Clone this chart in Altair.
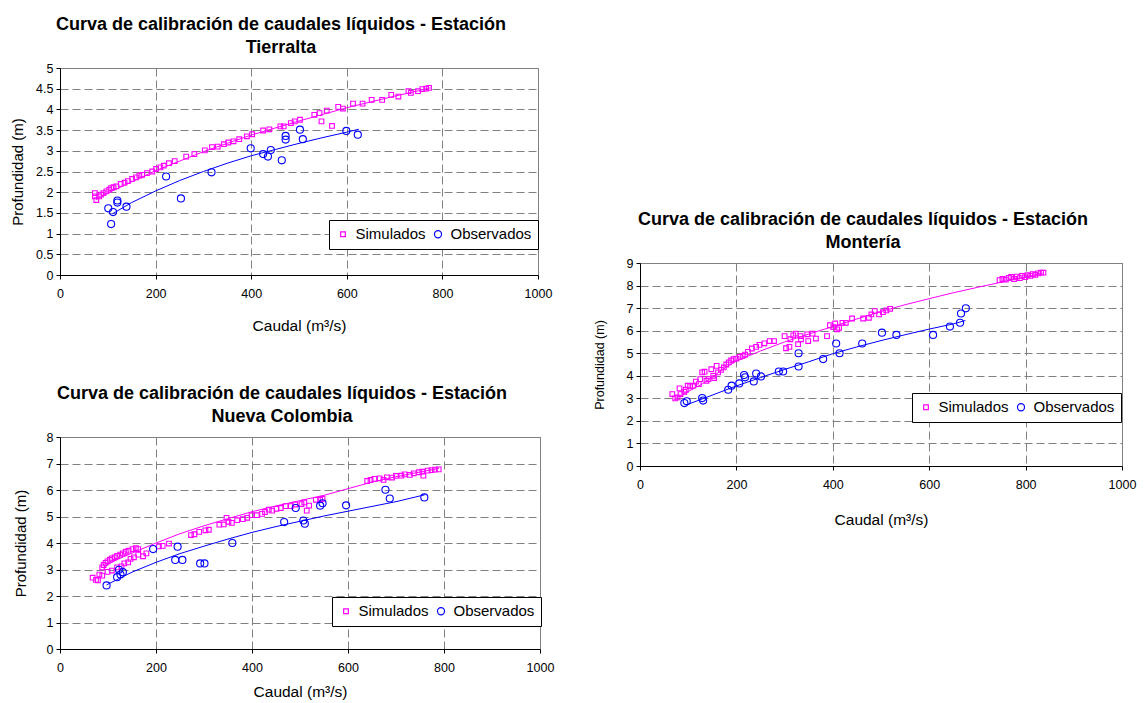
import altair as alt
import pandas as pd

FONT = "Liberation Sans"
MAG = "#FF00FF"
BLU = "#0000FF"

# ---------------- Tierralta ----------------
t_sim_q = [73, 73, 76, 82, 86, 91, 97, 103, 107, 112, 118, 127, 135, 142, 151, 159, 166, 172, 182, 193,
           201, 210, 217, 228, 240, 264, 281, 303, 318, 330, 343, 352, 363, 375, 391, 402, 425, 438, 461,
           468, 483, 491, 502, 532, 543, 547, 558, 569, 582, 592, 613, 633, 652, 674, 693, 708, 729, 734,
           749, 758, 766, 772]
t_sim_h = [1.98, 1.90, 1.81, 1.90, 1.94, 1.98, 2.02, 2.06, 2.10, 2.12, 2.14, 2.20, 2.23, 2.27, 2.32, 2.36,
           2.40, 2.42, 2.46, 2.50, 2.56, 2.60, 2.64, 2.70, 2.75, 2.86, 2.92, 3.01, 3.09, 3.10, 3.16, 3.20,
           3.23, 3.28, 3.35, 3.40, 3.49, 3.52, 3.59, 3.59, 3.67, 3.71, 3.75, 3.87, 3.91, 3.71, 3.97, 3.60,
           4.06, 4.02, 4.14, 4.14, 4.23, 4.23, 4.35, 4.31, 4.44, 4.40, 4.44, 4.49, 4.50, 4.52]
t_obs_q = [101, 107, 111, 120, 120, 139, 222, 253, 317, 399, 425, 435, 441, 464, 472, 472, 502, 508, 599, 623]
t_obs_h = [1.61, 1.23, 1.52, 1.80, 1.75, 1.65, 2.38, 1.85, 2.48, 3.06, 2.92, 2.86, 3.02, 2.77, 3.36, 3.27,
           3.51, 3.28, 3.48, 3.39]
t_simfit_q = [75, 100, 150, 200, 250, 300, 350, 400, 450, 500, 550, 600, 650, 700, 750, 775]
t_simfit_h = [1.82, 1.98, 2.25, 2.52, 2.75, 2.98, 3.18, 3.38, 3.55, 3.72, 3.88, 4.04, 4.18, 4.32, 4.45, 4.52]
t_obsfit_q = [110, 150, 200, 250, 300, 350, 400, 450, 500, 550, 600, 625]
t_obsfit_h = [1.48, 1.75, 2.03, 2.28, 2.50, 2.70, 2.88, 3.03, 3.18, 3.32, 3.45, 3.52]

# ---------------- Nueva Colombia ----------------
n_sim_q = [68, 75, 79, 82, 88, 99, 108, 119, 128, 134, 142, 147, 154, 163, 173, 180,
           88, 91, 95, 99, 104, 108, 114, 119, 125, 131, 137, 143, 151, 158, 163,
           206, 214, 227, 273, 280, 290, 303, 310, 332, 341, 347, 351, 358, 369, 381, 390, 399, 410,
           421, 427, 435, 442, 451, 460, 470, 481, 490, 503, 509, 514, 519, 533, 542, 547,
           640, 647, 655, 666, 674, 681, 692, 700, 711, 718, 729, 737, 748, 755, 757, 766, 774, 781, 789]
n_sim_h = [2.69, 2.61, 2.59, 2.81, 2.77, 2.91, 2.96, 3.08, 3.12, 3.23, 3.27, 3.40, 3.46, 3.56, 3.50, 3.61,
           3.08, 3.17, 3.25, 3.31, 3.37, 3.42, 3.46, 3.51, 3.56, 3.61, 3.67, 3.71, 3.77, 3.81, 3.77,
           3.87, 3.89, 3.98, 4.30, 4.33, 4.42, 4.48, 4.50, 4.69, 4.70, 4.95, 4.80, 4.76, 4.86, 4.90, 4.95,
           5.05, 5.05, 5.10, 5.17, 5.26, 5.22, 5.29, 5.32, 5.39, 5.39, 5.45, 5.47, 5.53, 5.22, 5.41, 5.63,
           5.63, 5.67,
           6.34, 6.38, 6.42, 6.44, 6.38, 6.48, 6.47, 6.53, 6.54, 6.59, 6.57, 6.63, 6.67, 6.69, 6.54, 6.73,
           6.75, 6.77, 6.78]
n_obs_q = [97, 119, 123, 126, 131, 194, 240, 245, 255, 292, 301, 359, 467, 491, 507, 510, 542, 547, 596,
           678, 687, 759]
n_obs_h = [2.40, 2.71, 2.99, 2.81, 2.90, 3.77, 3.36, 3.86, 3.36, 3.23, 3.23, 4.00, 4.79, 5.32, 4.85, 4.73,
           5.41, 5.50, 5.42, 6.01, 5.68, 5.72]
n_simfit_q = [90, 100, 120, 150, 200, 250, 300, 350, 400, 450, 500, 550, 600, 650, 700, 750, 790]
n_simfit_h = [3.05, 3.20, 3.38, 3.62, 4.00, 4.35, 4.65, 4.92, 5.18, 5.40, 5.60, 5.80, 6.05, 6.30, 6.50,
              6.68, 6.82]
n_obsfit_q = [97, 150, 200, 250, 300, 350, 400, 450, 500, 550, 600, 650, 700, 760]
n_obsfit_h = [2.42, 2.90, 3.27, 3.60, 3.88, 4.15, 4.40, 4.62, 4.82, 5.02, 5.20, 5.38, 5.56, 5.82]

# ---------------- Montería ----------------
m_sim_q = [67, 73, 78, 82, 84, 92, 95, 99, 104, 110, 116, 122, 125, 129, 134, 138, 142, 148, 152, 159,
           154, 162, 168, 174, 179, 184, 189, 194, 200, 207, 213, 218, 224, 232, 241, 248, 258, 269, 278,
           300, 303, 310, 312, 318, 323, 328, 333, 334, 347, 349, 358, 365, 388, 394, 401, 405, 409, 413,
           420, 427, 440, 463, 475, 480, 487, 496, 504, 511, 519,
           746, 752, 759, 765, 770, 776, 782, 788, 793, 799, 804, 810, 815, 820, 826, 832, 837]
m_sim_h = [3.19, 3.00, 3.04, 3.44, 3.19, 3.29, 3.38, 3.56, 3.53, 3.56, 3.74, 3.63, 3.85, 4.15, 4.18, 3.78,
           3.85, 4.29, 4.00, 4.44, 3.90, 4.15, 4.26, 4.37, 4.50, 4.59, 4.68, 4.74, 4.76, 4.84, 4.88, 4.94,
           5.06, 5.21, 5.28, 5.37, 5.44, 5.54, 5.54, 5.76, 5.22, 5.28, 5.62, 5.79, 5.87, 5.40, 5.76, 5.62,
           5.84, 5.54, 5.87, 5.65, 5.76, 6.24, 6.16, 6.32, 6.06, 6.13, 6.35, 6.35, 6.54, 6.54, 6.57, 6.72,
           6.87, 6.72, 6.82, 6.90, 6.97,
           8.24, 8.29, 8.26, 8.34, 8.38, 8.29, 8.40, 8.33, 8.43, 8.37, 8.46, 8.43, 8.51, 8.47, 8.54, 8.57,
           8.57]
m_obs_q = [92, 97, 129, 131, 183, 190, 206, 216, 218, 236, 241, 251, 288, 297, 329, 329, 380, 407, 414,
           461, 502, 532, 608, 643, 664, 666, 676]
m_obs_h = [2.79, 2.87, 3.01, 2.90, 3.38, 3.56, 3.66, 4.03, 3.93, 3.75, 4.10, 3.97, 4.19, 4.19, 4.41, 5.00,
           4.74, 5.43, 5.00, 5.43, 5.91, 5.81, 5.81, 6.18, 6.35, 6.76, 6.99]
m_simfit_q = [70, 100, 130, 150, 180, 200, 250, 300, 350, 400, 450, 500, 550, 600, 650, 700, 750, 800, 835]
m_simfit_h = [2.95, 3.30, 3.65, 3.95, 4.40, 4.65, 5.10, 5.50, 5.85, 6.18, 6.52, 6.85, 7.15, 7.42, 7.68,
              7.92, 8.15, 8.38, 8.55]
m_obsfit_q = [95, 130, 200, 250, 300, 350, 400, 450, 500, 550, 600, 650, 675]
m_obsfit_h = [2.70, 2.98, 3.55, 3.92, 4.28, 4.62, 4.98, 5.28, 5.56, 5.82, 6.07, 6.30, 6.45]

X_TICKS = [0, 200, 400, 600, 800, 1000]
SERIES = ["Simulados", "Observados"]


def panel(title, sim_q, sim_h, obs_q, obs_h, sf_q, sf_h, of_q, of_h,
          ymax, ystep, w, h, lx, ly, ytitle_size=15, title_dx=-18,
          x_title_pad=12, y_title_pad=10, fmt="~g"):
    pts = pd.DataFrame({
        "Q": list(sim_q) + list(obs_q),
        "H": list(sim_h) + list(obs_h),
        "serie": ["Simulados"] * len(sim_q) + ["Observados"] * len(obs_q),
    })
    simfit = pd.DataFrame({"Q": sf_q, "H": sf_h})
    obsfit = pd.DataFrame({"Q": of_q, "H": of_h})
    nsteps = int(round(ymax / ystep))
    yt = [round(i * ystep, 2) for i in range(nsteps + 1)]

    xenc = alt.X("Q:Q", scale=alt.Scale(domain=[0, 1000], nice=False),
                 axis=alt.Axis(values=X_TICKS, format="d", title="Caudal (m³/s)",
                               titlePadding=x_title_pad, titleFontSize=15.5,
                               titleFontWeight="normal", labelPadding=8, labelFlush=False))
    yenc = alt.Y("H:Q", scale=alt.Scale(domain=[0, ymax], nice=False),
                 axis=alt.Axis(values=yt, format=fmt, title="Profundidad (m)",
                               titlePadding=y_title_pad, titleFontSize=ytitle_size,
                               titleFontWeight="normal", labelPadding=3, labelFlush=False))
    leg = alt.Legend(title=None, orient="none", legendX=lx, legendY=ly, direction="horizontal",
                     strokeColor="black", fillColor="white", padding=6.5, labelFontSize=15,
                     labelFont=FONT, labelColor="black", columnPadding=4, labelOffset=5,
                     symbolStrokeWidth=1.2)
    l1 = alt.Chart(simfit).mark_line(color=MAG, strokeWidth=1).encode(x=xenc, y=yenc)
    l2 = alt.Chart(obsfit).mark_line(color=BLU, strokeWidth=1).encode(x=xenc, y=yenc)
    p = alt.Chart(pts).mark_point(filled=False, strokeWidth=1.1, opacity=1).encode(
        x=xenc, y=yenc,
        color=alt.Color("serie:N", scale=alt.Scale(domain=SERIES, range=[MAG, BLU]), legend=leg),
        shape=alt.Shape("serie:N", scale=alt.Scale(domain=SERIES, range=["square", "circle"]), legend=leg),
        size=alt.Size("serie:N", scale=alt.Scale(domain=SERIES, range=[22, 50]), legend=leg),
    )
    return alt.layer(l1, l2, p).properties(
        width=w, height=h,
        title=alt.TitleParams(text=title, font=FONT, fontSize=18, fontWeight="bold",
                              anchor="middle", frame="group", dx=title_dx, lineHeight=23,
                              offset=5, color="black"),
        view=alt.ViewBackground(stroke="#808080", strokeWidth=1),
    )


A = panel(["Curva de calibración de caudales líquidos - Estación", "Tierralta"],
          t_sim_q, t_sim_h, t_obs_q, t_obs_h, t_simfit_q, t_simfit_h, t_obsfit_q, t_obsfit_h,
          5, 0.5, 478, 207, 269, 152, fmt=".1~f", x_title_pad=18.5, y_title_pad=10)
B = panel(["Curva de calibración de caudales líquidos - Estación", "Nueva Colombia"],
          n_sim_q, n_sim_h, n_obs_q, n_obs_h, n_simfit_q, n_simfit_h, n_obsfit_q, n_obsfit_h,
          8, 1, 480, 212, 272, 160, x_title_pad=10.5, y_title_pad=17.5)
C = panel(["Curva de calibración de caudales líquidos - Estación", "Montería"],
          m_sim_q, m_sim_h, m_obs_q, m_obs_h, m_simfit_q, m_simfit_h, m_obsfit_q, m_obsfit_h,
          9, 1, 482, 203, 272, 130, ytitle_size=12.5, y_title_pad=20, x_title_pad=21.5)

spacer = alt.Chart(pd.DataFrame({"a": [0]})).mark_point(opacity=0).encode(
    x=alt.value(0), y=alt.value(0)
).properties(width=482, height=141, view=alt.ViewBackground(stroke="transparent"))

IND = dict(color="independent", shape="independent", size="independent")

left = alt.vconcat(A, B, spacing=50).resolve_scale(**IND).resolve_legend(**IND)
right = alt.vconcat(spacer, C, spacing=0).resolve_scale(**IND).resolve_legend(**IND)

chart = alt.hconcat(left, right, spacing=37).resolve_scale(**IND).resolve_legend(**IND).properties(
    padding={"left": 10, "top": 15, "right": 0, "bottom": 0},
    background="white",
).configure_axis(
    grid=True, gridColor="#808080", gridDash=[8, 4], gridWidth=1,
    domainColor="black", domainWidth=1, tickColor="black", tickSize=4,
    labelFont=FONT, labelFontSize=12.5, labelColor="black",
    titleFont=FONT, titleColor="black",
).configure_view(stroke="#808080")

chart.save("out.html", embed_options={"renderer": "svg", "actions": False})
